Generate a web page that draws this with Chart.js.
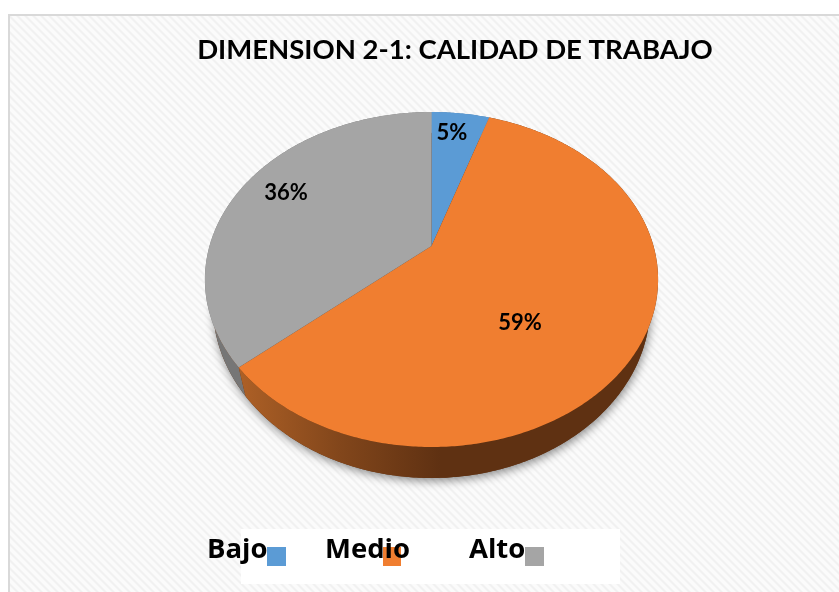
<!DOCTYPE html>
<html><head><meta charset="utf-8">
<style>html,body{margin:0;padding:0;background:#fff}canvas{display:block}</style>
<script src="https://cdn.jsdelivr.net/npm/chart.js@4"></script>
</head><body><canvas id="c" width="839" height="592"></canvas>
<script>
const categories = ["Bajo", "Medio", "Alto"];
const percentages = [5, 58.6, 36.4];
const colors = ["#5b9bd5", "#f07e30", "#a5a5a5"];
const titleText = "DIMENSION 2-1: CALIDAD DE TRABAJO";

// perspective projection of the unit pie disc
const VIEW = {cx:431.5, cy:246, a:222, b:111.6, p:0.2, depth:24.8, lowScale:0.965};
const LABEL_AT = [[452,133],[520,323],[286,193]];
const LEGEND_TEXT_X = [207,325,469];
const LEGEND_BOX_X = [267,383,525];
const LEGEND_BOX_W = [19,18,19];

function topRim(x,y){const w=1/(1-VIEW.p*y);return [VIEW.cx+VIEW.a*x*w,(VIEW.cy+VIEW.b*y)*w];}
function lowRim(x,y){const w=1/(1-VIEW.p*y);return [VIEW.cx+VIEW.a*VIEW.lowScale*x*w,(VIEW.cy+VIEW.b*y+VIEW.depth)*w];}
function rimPts(fn,s,e){const n=Math.max(2,Math.ceil((e-s)/0.01));const out=[];for(let i=0;i<=n;i++){const t=s+(e-s)*i/n;out.push(fn(Math.cos(t),Math.sin(t)));}return out;}
function poly(ctx,pts){ctx.beginPath();pts.forEach((q,i)=>i?ctx.lineTo(q[0],q[1]):ctx.moveTo(q[0],q[1]));ctx.closePath();}

const scene = {
  id:'scene',
  beforeDraw(chart){
    const ctx=chart.ctx;
    const tile=document.createElement('canvas');tile.width=tile.height=8;
    const t=tile.getContext('2d');t.fillStyle='#fbfbfb';t.fillRect(0,0,8,8);
    for(let y=0;y<8;y++)for(let x=0;x<8;x++){const v=((x-y)%8+8)%8;if(v<4){t.fillStyle=(v===0||v===3)?'#f6f6f6':'#f1f1f1';t.fillRect(x,y,1,1);}}
    ctx.save();ctx.fillStyle='#fff';ctx.fillRect(0,0,839,592);
    ctx.fillStyle='#d9d9d9';ctx.fillRect(8,14,831,578);
    ctx.fillStyle=ctx.createPattern(tile,'repeat');ctx.fillRect(10,16,829,576);
    ctx.restore();
  },
  beforeDatasetsDraw(chart){
    const ctx=chart.ctx,arcs=chart.getDatasetMeta(0).data;
    ctx.save();
    // soft drop shadow of the disc
    ctx.shadowColor='rgba(0,0,0,0.45)';ctx.shadowBlur=10;ctx.shadowOffsetX=1;ctx.shadowOffsetY=3;
    ctx.fillStyle='#5f3112';poly(ctx,rimPts(lowRim,0,Math.PI*2));ctx.fill();
    ctx.restore();
    // walls
    const grad=ctx.createLinearGradient(240,0,440,0);
    grad.addColorStop(0,'#ad6026');grad.addColorStop(0.5,'#82461b');grad.addColorStop(1,'#5f3112');
    const wall=[ '#4a7aa8', grad, '#767676' ];
    [0,2,1].forEach(i=>{const a=arcs[i];
      const up=rimPts(topRim,a.startAngle,a.endAngle),lo=rimPts(lowRim,a.startAngle,a.endAngle).reverse();
      ctx.fillStyle=wall[i];poly(ctx,up.concat(lo));ctx.fill();});
    // top faces
    arcs.forEach((a,i)=>{
      const pts=rimPts(topRim,a.startAngle,a.endAngle);pts.push(topRim(0,0));
      ctx.fillStyle=chart.data.datasets[0].backgroundColor[i];poly(ctx,pts);ctx.fill();
    });
    return false;
  },
  afterDraw(chart){
    const ctx=chart.ctx,ds=chart.data.datasets[0];
    ctx.save();
    ctx.fillStyle='#000';ctx.font='bold 22px Lato';ctx.textAlign='center';ctx.textBaseline='middle';
    ds.data.forEach((v,i)=>ctx.fillText(Math.round(v)+'%',LABEL_AT[i][0],LABEL_AT[i][1]));
    // legend
    ctx.fillStyle='#fff';ctx.fillRect(241,529,379,55);
    chart.data.labels.forEach((l,i)=>{ctx.fillStyle=ds.backgroundColor[i];ctx.fillRect(LEGEND_BOX_X[i],547,LEGEND_BOX_W[i],19);});
    ctx.fillStyle='#000';ctx.font='bold 27.5px "Open Sans"';ctx.textAlign='left';ctx.textBaseline='alphabetic';
    chart.data.labels.forEach((l,i)=>ctx.fillText(l,LEGEND_TEXT_X[i],558));
    ctx.restore();
  }
};

new Chart(document.getElementById('c'),{
  type:'pie',
  data:{labels:categories,datasets:[{data:percentages,backgroundColor:colors,borderWidth:0}]},
  options:{
    responsive:false,animation:false,
    layout:{padding:{left:71,top:34}},
    plugins:{
      legend:{display:false},tooltip:{enabled:false},
      title:{display:true,text:titleText,color:'#000',align:'center',padding:0,font:{family:'Lato',weight:'bold',size:27.5}}
    }
  },
  plugins:[scene]
});
</script></body></html>
